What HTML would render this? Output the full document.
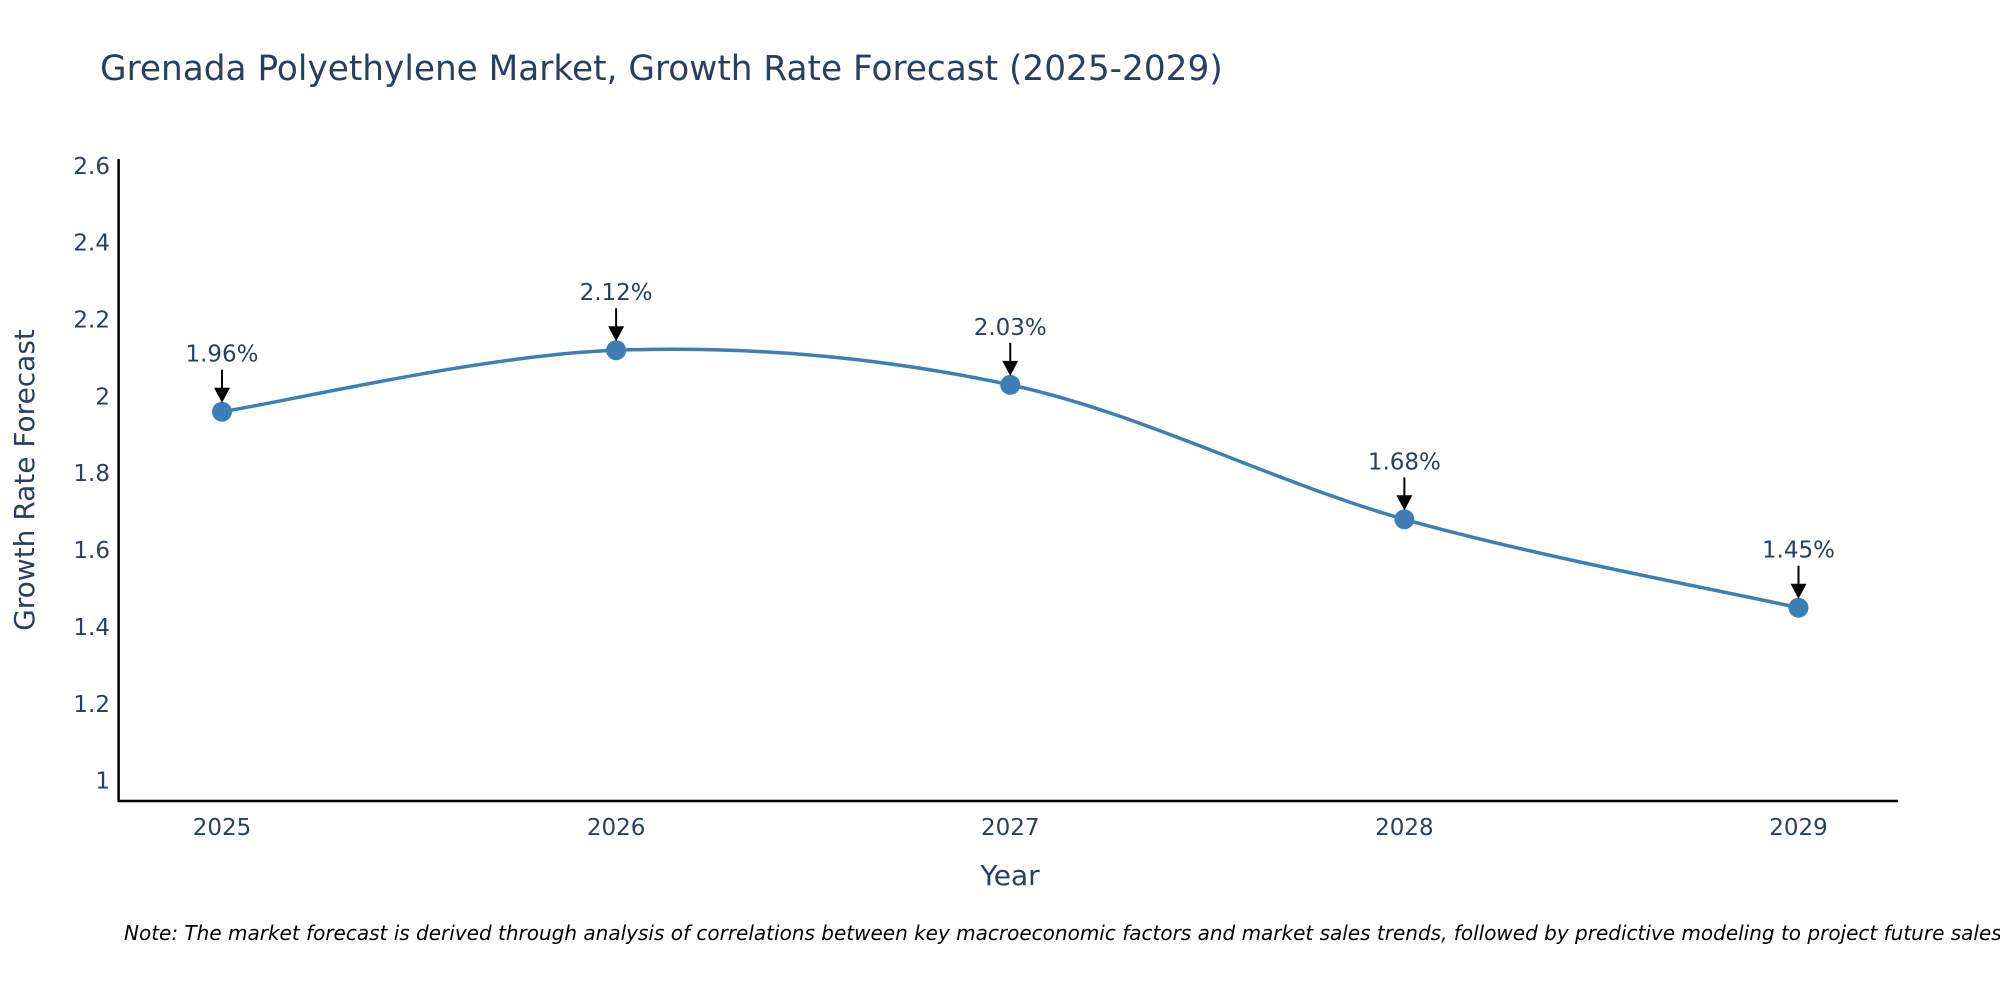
<!DOCTYPE html>
<html><head><meta charset="utf-8"><style>
body{margin:0;background:#fff;}
svg{font-family:"DejaVu Sans","Liberation Sans",sans-serif;}
</style></head><body>
<svg id="chart" width="2000" height="1000">
<text x="100" y="80" font-size="34.3" fill="#2a3f5f">Grenada Polyethylene Market, Growth Rate Forecast (2025-2029)</text>
<g id="yticks"></g><g id="xticks"></g>
<line x1="118.6" y1="159" x2="118.6" y2="801" stroke="#000" stroke-width="2.5"/>
<line x1="117.5" y1="801" x2="1898" y2="801" stroke="#000" stroke-width="2.5"/>
<text transform="translate(34,480) rotate(-90)" text-anchor="middle" font-size="28" fill="#2a3f5f">Growth Rate Forecast</text>
<text x="1010" y="885" text-anchor="middle" font-size="28" fill="#2a3f5f">Year</text>
<g id="series"></g>
<text x="124" y="940" font-size="20" font-style="italic" fill="#000">Note: The market forecast is derived through analysis of correlations between key macroeconomic factors and market sales trends, followed by predictive modeling to project future sales</text>
</svg>
<script>
const years=["2025","2026","2027","2028","2029"];
const values=[1.96,2.12,2.03,1.68,1.45];
const labels=["1.96%","2.12%","2.03%","1.68%","1.45%"];
const yTicks=[1,1.2,1.4,1.6,1.8,2,2.2,2.4,2.6];
const yTickLabels=["1","1.2","1.4","1.6","1.8","2","2.2","2.4","2.6"];
const NS="http://www.w3.org/2000/svg";
function xs(i){return 222+i*(1798.5-222)/4;}
function ys(v){return 780.6-(v-1)*(780.6-165.8)/1.6;}
function mk(t,a,p){const e=document.createElementNS(NS,t);for(const k in a)e.setAttribute(k,a[k]);p.appendChild(e);return e;}
const yt=document.getElementById('yticks');
yTicks.forEach((v,i)=>{const t=mk('text',{x:110,y:ys(v)+8,'text-anchor':'end','font-size':23,fill:'#2a3f5f'},yt);t.textContent=yTickLabels[i];

});
const xt=document.getElementById('xticks');
years.forEach((y,i)=>{const t=mk('text',{x:xs(i),y:835,'text-anchor':'middle','font-size':23,fill:'#2a3f5f'},xt);t.textContent=y;

});
const s=document.getElementById('series');
const P=values.map((v,i)=>[xs(i),ys(v)]);
let d="M"+P[0][0]+","+P[0][1];const k=0.5/3*2;
for(let i=0;i<P.length-1;i++){const p0=P[Math.max(0,i-1)],p1=P[i],p2=P[i+1],p3=P[Math.min(P.length-1,i+2)];
const c1=[p1[0]+(p2[0]-p0[0])*k/2,p1[1]+(p2[1]-p0[1])*k/2],c2=[p2[0]-(p3[0]-p1[0])*k/2,p2[1]-(p3[1]-p1[1])*k/2];
d+=` C${c1[0]},${c1[1]} ${c2[0]},${c2[1]} ${p2[0]},${p2[1]}`;}
const line=mk('path',{d:d,fill:'none',stroke:'#3d7fb5','stroke-width':3.5},s);


P.forEach((p,i)=>{const c=mk('circle',{cx:p[0],cy:p[1],r:10,fill:'#3d7fb5'},s);


const a=mk('line',{x1:p[0],y1:p[1]-42,x2:p[0],y2:p[1]-20,stroke:'#000','stroke-width':2},s);


const h=mk('path',{d:`M${p[0]-8},${p[1]-24} L${p[0]+8},${p[1]-24} L${p[0]},${p[1]-9} Z`,fill:'#000'},s);


const t=mk('text',{x:p[0],y:p[1]-50,'text-anchor':'middle','font-size':23,fill:'#2a3f5f'},s);t.textContent=labels[i];

});
</script>
</body></html>
